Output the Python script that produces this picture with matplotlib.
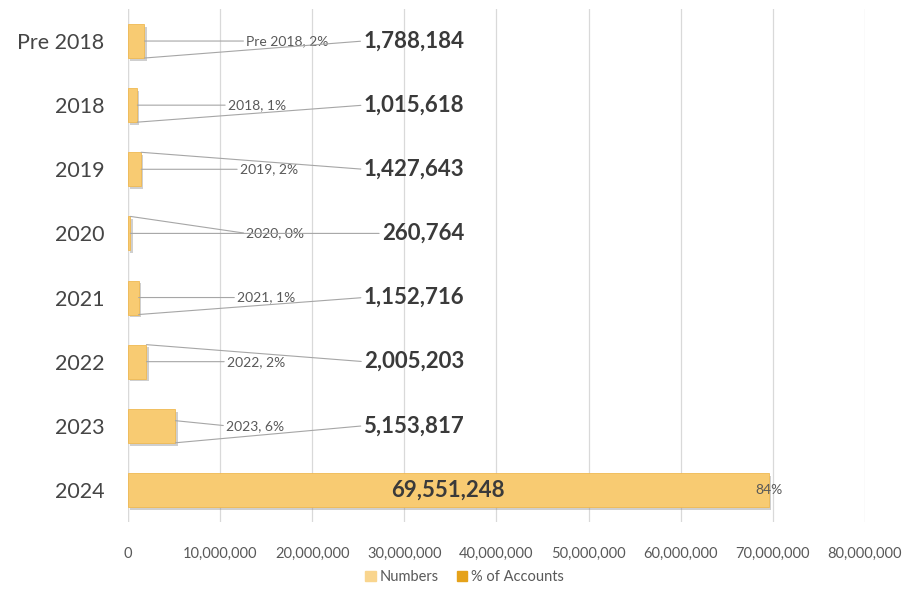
import numpy as np
import matplotlib.pyplot as plt
import matplotlib.patches as mpatches
import matplotlib.patheffects as pe
from matplotlib.ticker import FuncFormatter

plt.rcParams['font.family'] = ['Lato', 'DejaVu Sans']

# ── data ──────────────────────────────────────────────────────────────────────
years    = ['Pre 2018', '2018', '2019', '2020', '2021', '2022', '2023', '2024']
numbers  = [1788184, 1015618, 1427643, 260764, 1152716, 2005203, 5153817, 69551248]
pct_acc  = [2, 1, 2, 0, 1, 2, 6, 84]

# ── label layout (leader lines) ──────────────────────────────────────────────
pct_x    = [17.3e6, 14.0e6, 15.3e6, 16.0e6, 15.0e6, 13.9e6, 13.8e6]   # pct label centres
val_x    = 36.5e6                                                      # value label right edge
pct_dy   = [0, 0, 0, -1, 0, 0, -0.3]   # start of pct leader, in half bar heights
val_dy   = [1, 1, -1, 0, 1, -1, 1]     # start of value leader

bar_h  = 0.53
c_bar  = '#F8CB72'
c_line = '#A6A6A6'

fig = plt.figure(figsize=(9.06, 5.9), dpi=100)
ax = fig.add_axes([0.1413, 0.1153, 0.8134, 0.8695])

y = np.arange(len(years))
bars = ax.barh(y, numbers, height=bar_h, color=c_bar, edgecolor='#F0B952', lw=0.6, zorder=3)
for b in bars:
    b.set_path_effects([pe.SimplePatchShadow(offset=(1.5, -2), shadow_rgbFace='#888888', alpha=0.4),
                        pe.Normal()])

ax.set_ylim(len(years) - 0.5, -0.5)
ax.set_xlim(0, 80e6)
ax.set_xticks(np.arange(0, 80e6 + 1, 10e6))
ax.xaxis.set_major_formatter(FuncFormatter(lambda v, p: f'{v:,.0f}'))
ax.grid(axis='x', color='#D9D9D9', lw=0.9, zorder=0)
ax.set_axisbelow(True)
for s in ax.spines.values():
    s.set_visible(False)
ax.axvline(0, color='#D9D9D9', lw=0.9, zorder=1)
ax.tick_params(axis='x', length=0, pad=18, labelsize=10.5, labelcolor='#595959')
ax.tick_params(axis='y', length=0, pad=17, labelsize=15.5, labelcolor='#454545')
ax.set_yticks(y)
ax.set_yticklabels(years)

# ── data labels ──────────────────────────────────────────────────────────────
line_kw = dict(arrowstyle='-', color=c_line, lw=0.8, shrinkA=0, shrinkB=0, relpos=(0, 0.5))
for i in range(len(years) - 1):
    xe = numbers[i]
    ax.annotate(f'{years[i]}, {pct_acc[i]}%', xy=(xe, y[i] + pct_dy[i] * bar_h / 2),
                xytext=(pct_x[i], y[i]), ha='center', va='center', fontsize=10,
                color='#595959', arrowprops=line_kw, zorder=4)
    ax.annotate(f'{numbers[i]:,}', xy=(xe, y[i] + val_dy[i] * bar_h / 2),
                xytext=(val_x, y[i]), ha='right', va='center', fontsize=16,
                fontweight='bold', color='#3A3A3A', arrowprops=line_kw, zorder=4)

last = len(years) - 1
ax.text(numbers[last] / 2, y[last], f'{numbers[last]:,}', ha='center', va='center',
        fontsize=16, fontweight='bold', color='#3A3A3A', zorder=5)
ax.text(numbers[last], y[last], f'{pct_acc[last]}%', ha='center', va='center',
        fontsize=10, color='#595959', zorder=5)

# ── legend ───────────────────────────────────────────────────────────────────
handles = [mpatches.Patch(color='#F9D58E', label='Numbers'),
           mpatches.Patch(color='#E5A21A', label='% of Accounts')]
fig.legend(handles=handles, loc='center', bbox_to_anchor=(0.513, 0.022), ncol=2,
           frameon=False, fontsize=10.5, handlelength=0.7, handleheight=0.7,
           handletextpad=0.3, columnspacing=1.2, labelcolor='#595959')

plt.savefig('out.png', dpi=100)
